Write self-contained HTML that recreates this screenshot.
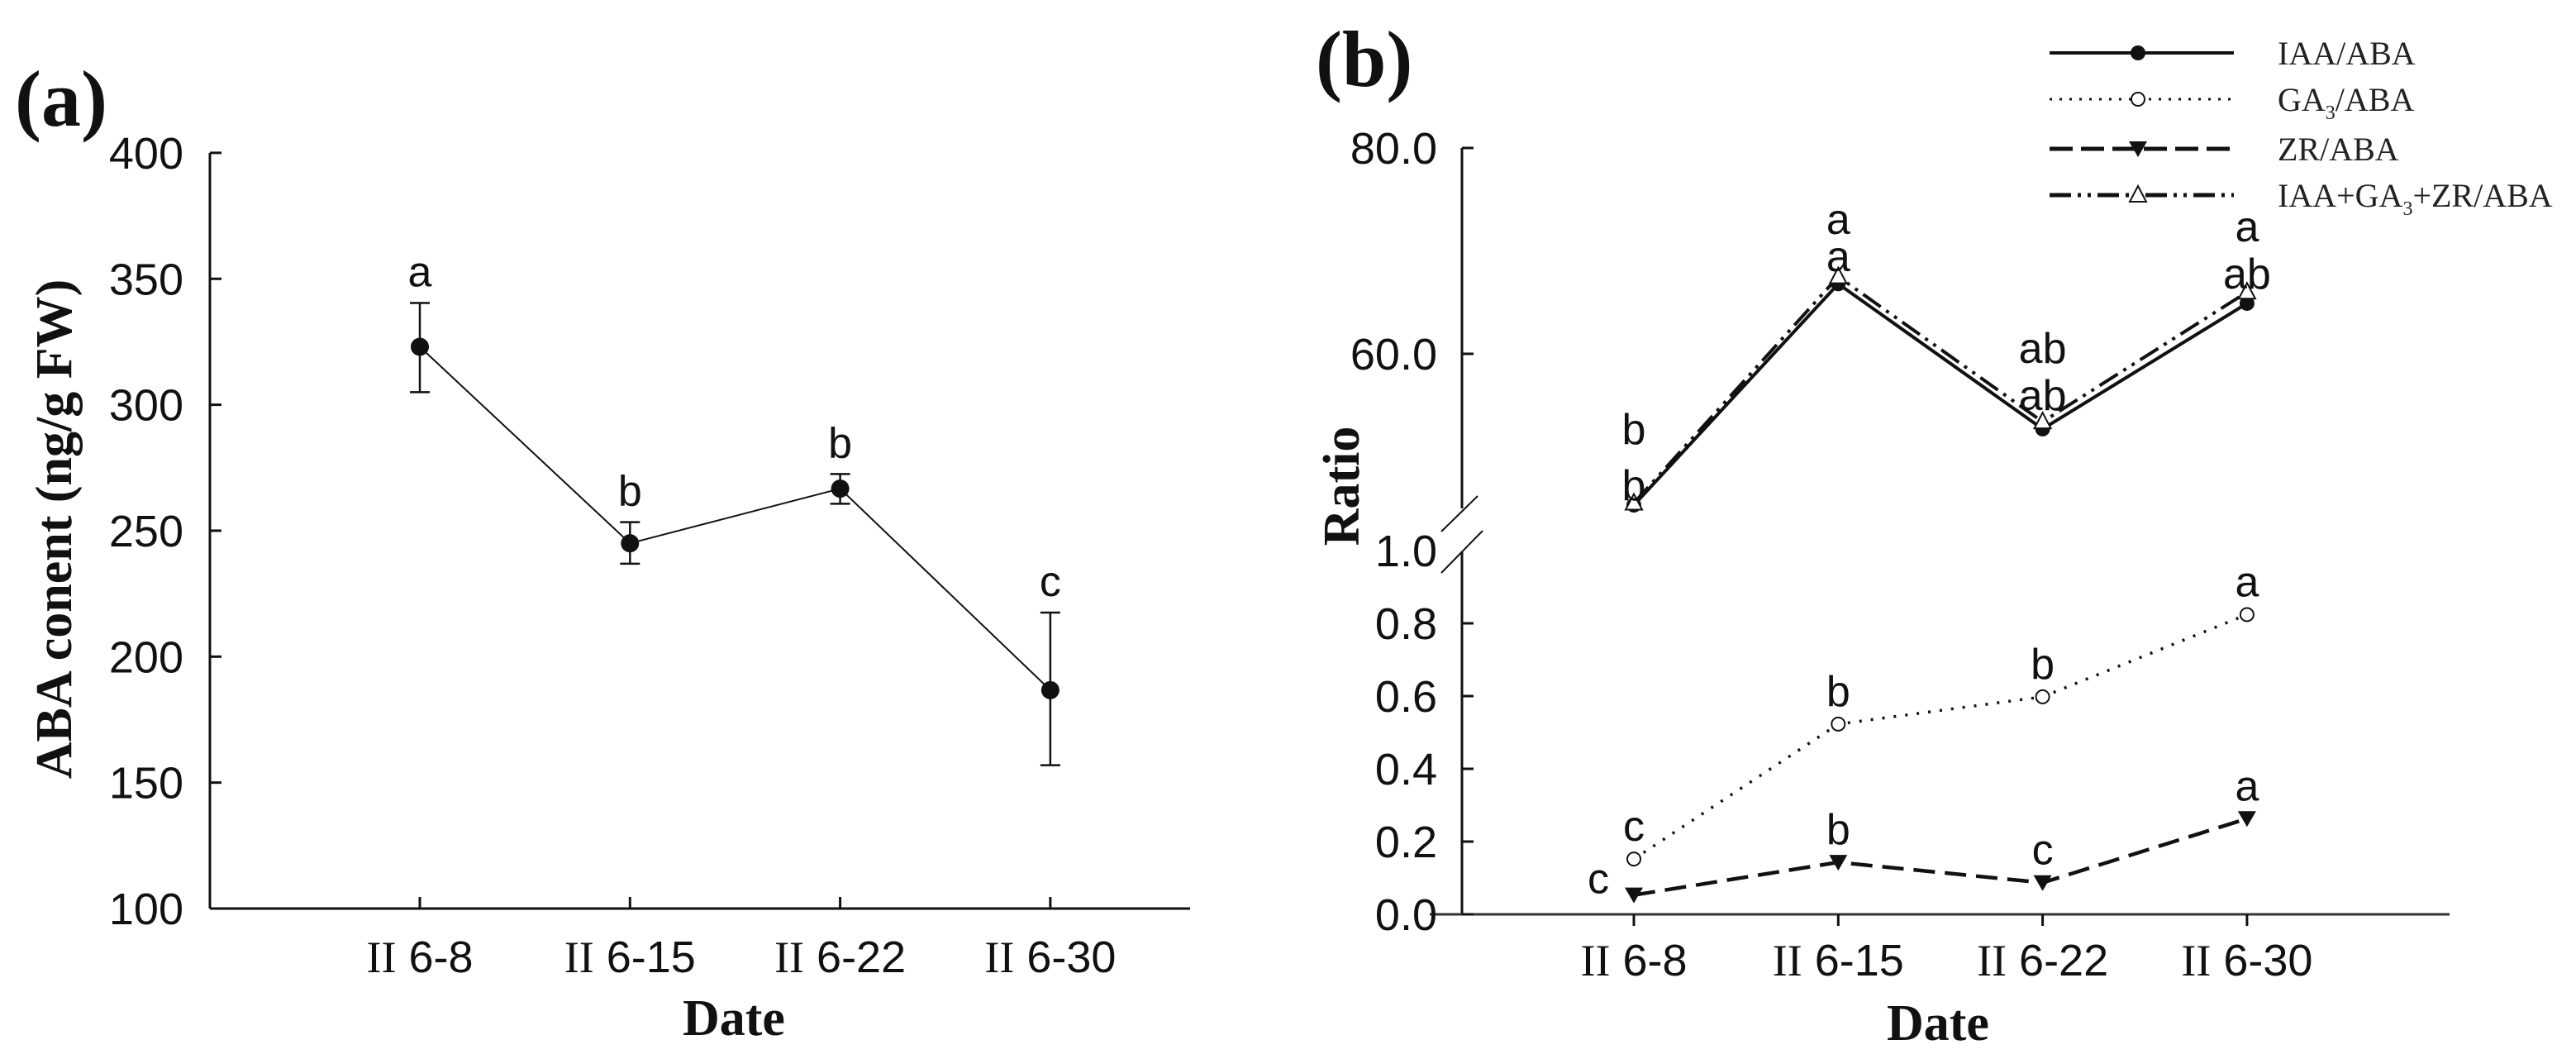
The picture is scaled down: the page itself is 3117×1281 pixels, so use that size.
<!DOCTYPE html>
<html><head><meta charset="utf-8"><style>
html,body{margin:0;padding:0;background:#fff;}
svg{display:block;}
.tk{font-family:"Liberation Sans",Arial,sans-serif;font-size:54px;fill:#111;}
.cat{font-family:"Liberation Sans",Arial,sans-serif;font-size:54px;fill:#111;}
.rom{font-family:"Liberation Serif",serif;}
.ttl{font-family:"Liberation Serif",serif;font-weight:bold;font-size:62px;fill:#111;}
.pl{font-family:"Liberation Serif",serif;font-weight:bold;font-size:96px;fill:#111;}
.let{font-family:"Liberation Sans",Arial,sans-serif;font-size:52px;fill:#111;}
.leg{font-family:"Liberation Serif",serif;font-size:40px;fill:#222;}
</style></head><body>
<svg id="chart" width="3117" height="1281" viewBox="0 0 3117 1281" xmlns="http://www.w3.org/2000/svg"></svg>
<script>
const categories = ["6-8","6-15","6-22","6-30"];
const abaValues = [323, 245, 266.7, 186.7];
const abaErrHigh = [340.4, 253.4, 272.5, 217.5];
const abaErrLow = [305, 236.9, 260.7, 156.9];
const abaLetters = ["a","b","b","c"];
const abaTicks = [100,150,200,250,300,350,400];
const iaaValues = [45.3, 66.8, 52.7, 64.9];
const sumValues = [45.5, 67.5, 53.4, 66.0];
const ga3Values = [0.152, 0.523, 0.598, 0.824];
const zrValues = [0.053, 0.143, 0.087, 0.263];
const iaaLetters = ["b","a","ab","ab"];
const sumLetters = ["b","a","ab","a"];
const ga3Letters = ["c","b","b","a"];
const zrLetters = ["c","b","c","a"];
const upperTicks = [60, 80];
const lowerTicks = [0.0,0.2,0.4,0.6,0.8,1.0];

const NS="http://www.w3.org/2000/svg";
const svg=document.getElementById('chart');
function el(tag,attrs,parent){const e=document.createElementNS(NS,tag);for(const k in attrs)e.setAttribute(k,attrs[k]);(parent||svg).appendChild(e);return e;}
function txt(x,y,s,cls,anchor){const t=el('text',{x:x,y:y,class:cls,'text-anchor':anchor||'middle'});t.textContent=s;return t;}

// ---------- Panel A ----------
const ax={x0:254,x1:1440,y0:1099};
const xA=i=>508+i*254.3;
const yA=v=>1099-(v-100)*3.047;
let t=txt(18,152,"(a)","pl","start");


let l=el('line',{x1:ax.x0,y1:yA(400),x2:ax.x0,y2:ax.y0,stroke:'#111','stroke-width':3});


l=el('line',{x1:ax.x0,y1:ax.y0,x2:ax.x1,y2:ax.y0,stroke:'#111','stroke-width':3});


abaTicks.forEach(v=>{
  const k=el('line',{x1:ax.x0,y1:yA(v),x2:ax.x0+14,y2:yA(v),stroke:'#111','stroke-width':3});
  
  
  const tl=txt(222,yA(v)+19,String(v),"tk","end");
  
  
});
categories.forEach((c,i)=>{
  const k=el('line',{x1:xA(i),y1:ax.y0,x2:xA(i),y2:ax.y0-14,stroke:'#111','stroke-width':3});
  
  
  const tl=el('text',{x:xA(i),y:1176,class:'cat','text-anchor':'middle'});
  tl.innerHTML='<tspan class="rom">II</tspan> '+c;
  
  
});
t=txt(0,0,"ABA conent (ng/g FW)","ttl");
t.setAttribute('transform','translate(86,640) rotate(-90)');
t.setAttribute('font-size','64');


t=txt(888,1252,"Date","ttl");


let p=el('polyline',{points:abaValues.map((v,i)=>xA(i)+','+yA(v)).join(' '),fill:'none',stroke:'#111','stroke-width':2});


abaValues.forEach((v,i)=>{
  const g=el('g',{});
  
  
  el('line',{x1:xA(i),y1:yA(abaErrHigh[i]),x2:xA(i),y2:yA(abaErrLow[i]),stroke:'#111','stroke-width':2.5},g);
  el('line',{x1:xA(i)-12,y1:yA(abaErrHigh[i]),x2:xA(i)+12,y2:yA(abaErrHigh[i]),stroke:'#111','stroke-width':2.5},g);
  el('line',{x1:xA(i)-12,y1:yA(abaErrLow[i]),x2:xA(i)+12,y2:yA(abaErrLow[i]),stroke:'#111','stroke-width':2.5},g);
  el('circle',{cx:xA(i),cy:yA(v),r:11,fill:'#111'},g);
  const lt=txt(xA(i),yA(abaErrHigh[i])-20,abaLetters[i],"let");
  
  
});

// ---------- Panel B ----------
const bx={x0:1769,x1:2964,y0:1106};
const xB=i=>1977+i*247.3;
const yU=v=>428-(v-60)*12.45;
const yL=v=>1106-v*440;
t=txt(1592,104,"(b)","pl","start");


l=el('line',{x1:bx.x0,y1:yU(80),x2:bx.x0,y2:615,stroke:'#111','stroke-width':3});


l=el('line',{x1:bx.x0,y1:667,x2:bx.x0,y2:bx.y0,stroke:'#111','stroke-width':3});


l=el('line',{x1:1744,y1:643,x2:1788,y2:600,stroke:'#111','stroke-width':2});


l=el('line',{x1:1744,y1:693,x2:1794,y2:642,stroke:'#111','stroke-width':2});


l=el('line',{x1:1730,y1:bx.y0,x2:bx.x1,y2:bx.y0,stroke:'#333','stroke-width':3});


upperTicks.forEach(v=>{
  const k=el('line',{x1:bx.x0,y1:yU(v),x2:bx.x0+14,y2:yU(v),stroke:'#111','stroke-width':3});
  
  
  const tl=txt(1739,yU(v)+19,v.toFixed(1),"tk","end");
  
  
});
lowerTicks.forEach(v=>{
  if(v<1){const k=el('line',{x1:bx.x0,y1:yL(v),x2:bx.x0+14,y2:yL(v),stroke:'#111','stroke-width':3});
  
  }
  const tl=txt(1739,yL(v)+19,v.toFixed(1),"tk","end");
  
  
});
categories.forEach((c,i)=>{
  const k=el('line',{x1:xB(i),y1:bx.y0,x2:xB(i),y2:bx.y0+14,stroke:'#111','stroke-width':3});
  
  
  const tl=el('text',{x:xB(i),y:1180,class:'cat','text-anchor':'middle'});
  tl.innerHTML='<tspan class="rom">II</tspan> '+c;
  
  
});
t=txt(0,0,"Ratio","ttl");
t.setAttribute('transform','translate(1644,588) rotate(-90)');
t.setAttribute('font-size','72');


t=txt(2345,1258,"Date","ttl");



function marker(kind,x,y,parent){
  if(kind==='fc') return el('circle',{cx:x,cy:y,r:9,fill:'#111'},parent);
  if(kind==='oc') return el('circle',{cx:x,cy:y,r:8,fill:'#fff',stroke:'#111','stroke-width':2},parent);
  if(kind==='dt') return el('polygon',{points:`${x-11},${y-9} ${x+11},${y-9} ${x},${y+10}`,fill:'#111'},parent);
  return el('polygon',{points:`${x-10},${y+8} ${x+10},${y+8} ${x},${y-11}`,fill:'#fff',stroke:'#111','stroke-width':2},parent);
}
const sumLine=el('polyline',{points:sumValues.map((v,i)=>xB(i)+','+yU(v)).join(' '),fill:'none',stroke:'#111','stroke-width':4,'stroke-dasharray':'26 8 4 8 4 8'});


const iaaLine=el('polyline',{points:iaaValues.map((v,i)=>xB(i)+','+yU(v)).join(' '),fill:'none',stroke:'#111','stroke-width':4});


const gaLine=el('polyline',{points:ga3Values.map((v,i)=>xB(i)+','+yL(v)).join(' '),fill:'none',stroke:'#111','stroke-width':3.5,'stroke-dasharray':'3 11'});


const zrLine=el('polyline',{points:zrValues.map((v,i)=>xB(i)+','+yL(v)).join(' '),fill:'none',stroke:'#111','stroke-width':4.5,'stroke-dasharray':'26 12'});


iaaValues.forEach((v,i)=>{const m=marker('fc',xB(i),yU(v));
  
  });
sumValues.forEach((v,i)=>{const m=marker('ot',xB(i),yU(v));
  
  });
ga3Values.forEach((v,i)=>{const m=marker('oc',xB(i),yL(v));
  
  });
zrValues.forEach((v,i)=>{const m=marker('dt',xB(i),yL(v));
  
  });
// letters
const sumTop=[519,265,421,274], iaaLow=[587,310,478,331];
sumLetters.forEach((s,i)=>{const lt=txt(xB(i),sumTop[i]+18,s,"let");
  
  });
iaaLetters.forEach((s,i)=>{const lt=txt(xB(i),iaaLow[i]+18,s,"let");
  
  });
ga3Letters.forEach((s,i)=>{const lt=txt(xB(i),yL(ga3Values[i])-22,s,"let");
  
  });
zrLetters.forEach((s,i)=>{const x=i===0?1934:xB(i);const y=i===0?yL(zrValues[i])-2:yL(zrValues[i])-22;
  const lt=txt(x,y,s,"let");
  
  });

// legend
const legNames=[["IAA/ABA"],["GA",",3","/ABA"],["ZR/ABA"],["IAA+GA",",3","+ZR/ABA"]];
const legRows=[64,120,180,236];
const legStyles=[{d:'none',w:4,m:'fc'},{d:'3 9',w:3,m:'oc'},{d:'28 10',w:5,m:'dt'},{d:'26 8 4 8 4 8',w:5,m:'ot'}];
legRows.forEach((y,i)=>{
  const g=el('g',{});
  
  
  const st=legStyles[i];
  const a={x1:2480,y1:y,x2:2703,y2:y,stroke:'#111','stroke-width':st.w};
  if(st.d!=='none')a['stroke-dasharray']=st.d;
  el('line',a,g);
  marker(st.m,2587,y,g);
  const tt=el('text',{x:2756,y:y+14,class:'leg'},g);
  if(i===1) tt.innerHTML='GA<tspan font-size="24" dy="10">3</tspan><tspan dy="-10">/ABA</tspan>';
  else if(i===3) tt.innerHTML='IAA+GA<tspan font-size="24" dy="10">3</tspan><tspan dy="-10">+ZR/ABA</tspan>';
  else tt.textContent=legNames[i][0];
});
</script>
</body></html>
